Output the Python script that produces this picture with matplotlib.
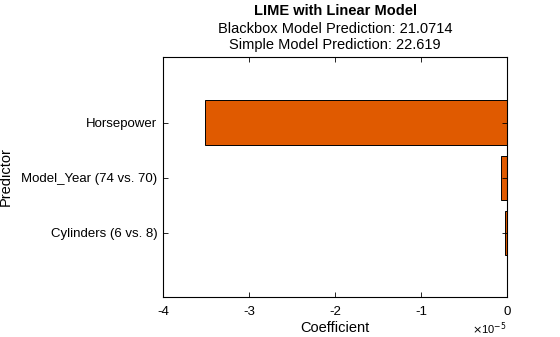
import matplotlib
matplotlib.use("Agg")
import matplotlib.pyplot as plt
from matplotlib.ticker import FuncFormatter

plt.rcParams['font.family'] = ['Liberation Sans', 'DejaVu Sans']
plt.rcParams['axes.unicode_minus'] = False

# LIME coefficients, bottom to top
predictors = ["Cylinders (6 vs. 8)", "Model_Year (74 vs. 70)", "Horsepower"]
coefficients = [-2e-7, -7e-7, -3.51e-5]
blackbox_pred = "21.0714"
simple_pred = "22.619"

fig = plt.figure(figsize=(5.6, 3.37), dpi=100)
ax = fig.add_axes([163 / 560, 1 - 296.5 / 337, 344 / 560, 239.5 / 337])

pos = list(range(1, len(predictors) + 1))
ax.barh(pos, coefficients, height=0.8, color="#E05A00", edgecolor="black", linewidth=0.7)

ax.set_xlim(-4e-5, 0)
ax.set_ylim(-0.16, 4.19)
ax.set_yticks(pos)
ax.set_yticklabels(predictors)
ax.set_xticks([-4e-5, -3e-5, -2e-5, -1e-5, 0])

# plain tick labels in units of 1e-5, exponent written separately
ax.xaxis.set_major_formatter(FuncFormatter(lambda v, p: f"{round(v / 1e-5):d}"))
ax.text(1.0, -0.098, r"$\times$10$^{-5}$", transform=ax.transAxes,
        ha="right", va="top", fontsize=8)

ax.tick_params(direction="in", length=3.5, width=0.6, top=True, right=True,
               labelsize=9.5, colors="black")
ax.tick_params(axis="x", pad=7)
ax.tick_params(axis="y", pad=4)
for s in ax.spines.values():
    s.set_linewidth(0.8)

ax.set_xlabel("Coefficient", fontsize=10.5, labelpad=2)
ax.set_ylabel("Predictor", fontsize=10.5, labelpad=6)

fig.text(0.5 * (163 + 507) / 560, 1 - 11 / 337, "LIME with Linear Model",
         ha="center", va="center", fontsize=10.5, fontweight="bold")
fig.text(0.5 * (163 + 507) / 560, 1 - 29 / 337, f"Blackbox Model Prediction: {blackbox_pred}",
         ha="center", va="center", fontsize=10.5)
fig.text(0.5 * (163 + 507) / 560, 1 - 45 / 337, f"Simple Model Prediction: {simple_pred}",
         ha="center", va="center", fontsize=10.5)

fig.savefig("out.png", dpi=100)
